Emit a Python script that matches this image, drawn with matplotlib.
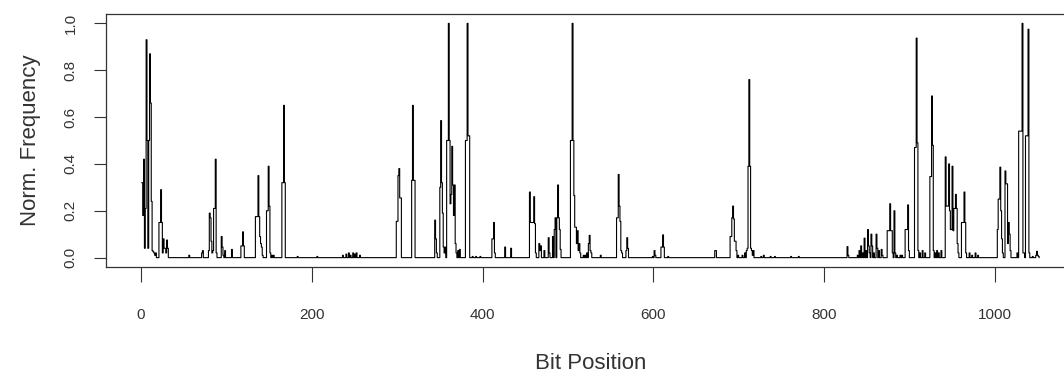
import matplotlib.pyplot as plt
import numpy as np

# bit positions 1..n_bits, all zero except the ones listed below
n_bits = 1052

peak_pos = [
    1, 2, 3, 4, 5, 6, 7, 8, 9, 10, 11, 12, 13, 14, 15, 16, 17,
    21, 22, 23, 24, 25, 26, 27, 28, 29, 30, 31,
    56, 71, 72,
    79, 80, 81, 82, 83, 84, 85, 86, 87, 88,
    94, 95, 96, 98, 106,
    117, 118, 119, 120,
    134, 135, 136, 137, 138, 139, 140, 141, 142,
    147, 148, 149, 150, 151, 153, 155,
    165, 166, 167, 168,
    183, 206, 236, 240, 243, 245, 248, 250, 252, 256,
    299, 300, 301, 302, 303, 304,
    317, 318, 319, 320,
    344, 345, 346, 350, 351, 352, 353, 354, 355, 356,
    358, 359, 360, 361, 362, 363, 364, 365, 366, 367, 368, 369, 371, 373,
    380, 381, 382, 383, 384, 388, 392, 397,
    411, 412, 413, 414, 426, 433,
    455, 456, 457, 458, 459, 460, 461, 462,
    466, 467, 468, 472, 477, 478, 482, 484, 485, 487, 488, 489, 490, 491,
    503, 504, 505, 506, 507, 508, 509, 510, 511, 512, 513, 514,
    518, 520, 522, 524, 525, 526, 527, 538,
    557, 558, 559, 560, 561, 562, 563, 568, 569, 570,
    599, 601, 602, 609, 610, 611, 612, 617,
    672, 673,
    690, 691, 692, 693, 694, 695, 696, 697, 699, 704, 707, 709, 710,
    711, 712, 713, 714, 715, 716, 717,
    726, 729, 737, 742, 761, 770,
    827, 828,
    839, 841, 843, 845, 847, 849, 851, 852, 853, 855, 856, 858, 861, 862,
    864, 867, 868,
    874, 875, 876, 877, 878, 879, 880, 882, 883, 885, 889, 891,
    895, 896, 897, 898, 899,
    906, 907, 908, 909, 910, 912, 915, 918,
    924, 925, 926, 927, 928, 930, 932, 934, 937,
    942, 943, 944, 945, 946, 947, 948, 949, 950, 951, 952, 953, 954, 955,
    956, 957,
    961, 962, 963, 964, 965, 966, 970, 973, 977, 980,
    1003, 1004, 1005, 1006, 1007, 1008, 1009,
    1012, 1013, 1014, 1015, 1016, 1017, 1018,
    1026, 1028, 1029, 1030, 1031, 1032, 1033,
    1034, 1036, 1037, 1038, 1039, 1040,
    1044, 1048, 1049, 1050, 1051,
]

peak_val = [
    0.32, 0.18, 0.42, 0.04, 0.21, 0.93, 0.5, 0.04, 0.5, 0.87, 0.66, 0.24, 0.03, 0.025, 0.02, 0.01, 0.02,
    0.15, 0.15, 0.29, 0.15, 0.02, 0.08, 0.04, 0.04, 0.02, 0.075, 0.04,
    0.01, 0.02, 0.03,
    0.03, 0.19, 0.17, 0.07, 0.02, 0.03, 0.21, 0.21, 0.42, 0.02,
    0.09, 0.045, 0.01, 0.03, 0.035,
    0.05, 0.05, 0.11, 0.05,
    0.175, 0.175, 0.175, 0.35, 0.175, 0.09, 0.06, 0.045, 0.01,
    0.2, 0.2, 0.39, 0.22, 0.02, 0.01, 0.01,
    0.32, 0.32, 0.65, 0.32,
    0.005, 0.005, 0.01, 0.015, 0.02, 0.01, 0.02, 0.015, 0.02, 0.01,
    0.155, 0.155, 0.35, 0.38, 0.255, 0.255,
    0.33, 0.65, 0.33, 0.33,
    0.16, 0.08, 0.02, 0.3, 0.585, 0.32, 0.19, 0.045, 0.02, 0.045,
    0.5, 0.5, 1.0, 0.5, 0.23, 0.27, 0.475, 0.31, 0.18, 0.31, 0.06, 0.02, 0.03, 0.035,
    0.5, 0.5, 1.0, 0.52, 0.52, 0.005, 0.005, 0.005,
    0.08, 0.08, 0.15, 0.02, 0.045, 0.04,
    0.28, 0.15, 0.15, 0.15, 0.15, 0.26, 0.145, 0.02,
    0.06, 0.03, 0.05, 0.03, 0.085, 0.02, 0.09, 0.12, 0.17, 0.17, 0.31, 0.17, 0.12, 0.035,
    0.5, 0.5, 1.0, 0.5, 0.265, 0.13, 0.13, 0.06, 0.115, 0.03, 0.06, 0.02,
    0.01, 0.01, 0.02, 0.06, 0.095, 0.03, 0.02, 0.01,
    0.17, 0.17, 0.355, 0.22, 0.155, 0.03, 0.02, 0.03, 0.085, 0.04,
    0.005, 0.03, 0.01, 0.045, 0.045, 0.097, 0.045, 0.005,
    0.03, 0.03,
    0.09, 0.09, 0.17, 0.22, 0.165, 0.07, 0.07, 0.03, 0.01, 0.01, 0.02, 0.03, 0.04,
    0.39, 0.76, 0.39, 0.04, 0.03, 0.01, 0.03,
    0.005, 0.01, 0.005, 0.005, 0.005, 0.005,
    0.047, 0.01,
    0.01, 0.03, 0.05, 0.02, 0.083, 0.03, 0.12, 0.05, 0.02, 0.1, 0.05, 0.02, 0.1, 0.04,
    0.03, 0.035, 0.01,
    0.115, 0.115, 0.115, 0.23, 0.115, 0.115, 0.02, 0.2, 0.02, 0.01, 0.01, 0.01,
    0.12, 0.12, 0.12, 0.225, 0.03,
    0.47, 0.47, 0.937, 0.49, 0.03, 0.02, 0.03, 0.02,
    0.346, 0.346, 0.69, 0.48, 0.03, 0.02, 0.03, 0.02, 0.03,
    0.43, 0.22, 0.22, 0.22, 0.4, 0.2, 0.12, 0.12, 0.39, 0.115, 0.21, 0.21, 0.27, 0.21,
    0.06, 0.02,
    0.15, 0.15, 0.15, 0.28, 0.15, 0.02, 0.02, 0.01, 0.02, 0.01,
    0.12, 0.25, 0.25, 0.386, 0.2, 0.08, 0.02,
    0.37, 0.315, 0.315, 0.06, 0.15, 0.1, 0.03,
    0.02, 0.54, 0.54, 0.54, 0.54, 1.0, 0.02,
    0.02, 0.52, 0.52, 0.52, 0.975, 0.02,
    0.005, 0.01, 0.027, 0.01, 0.005,
]

x_ticks = [0, 200, 400, 600, 800, 1000]
y_ticks = [0.0, 0.2, 0.4, 0.6, 0.8, 1.0]

freq = np.zeros(n_bits)
freq[np.array(peak_pos) - 1] = peak_val
bits = np.arange(1, n_bits + 1)

plt.rcParams['font.family'] = ['Liberation Sans Narrow', 'Liberation Sans', 'DejaVu Sans']
text_col = '#333333'

fig = plt.figure(figsize=(10.64, 3.75), dpi=100)
# plot region runs past the right edge of the image, like the cropped original
ax = fig.add_axes([106 / 1064, 1 - 267 / 375, (1075 - 106) / 1064, (267 - 14) / 375])
ax.plot(bits, freq, drawstyle='steps-post', color='black', lw=0.8)

ax.set_xlim(-41, 1094)
ax.set_ylim(-0.04, 1.04)

ax.set_xticks(x_ticks)
ax.set_xticklabels([str(t) for t in x_ticks])
ax.set_yticks(y_ticks)
ax.set_yticklabels([f'{t:.1f}' for t in y_ticks], rotation=90, va='center')

ax.tick_params(axis='x', length=10.5, width=0.8, pad=19, labelsize=11,
               colors='#333333', labelcolor=text_col)
ax.tick_params(axis='y', length=8.5, width=0.8, pad=12, labelsize=11,
               colors='#333333', labelcolor=text_col)
for s in ax.spines.values():
    s.set_color('#333333')
    s.set_linewidth(0.9)

ax.set_xlabel('Bit Position', fontsize=16, color=text_col, labelpad=22)
ax.set_ylabel('Norm. Frequency', fontsize=16, color=text_col, labelpad=16)

fig.savefig('out.png', dpi=100)
